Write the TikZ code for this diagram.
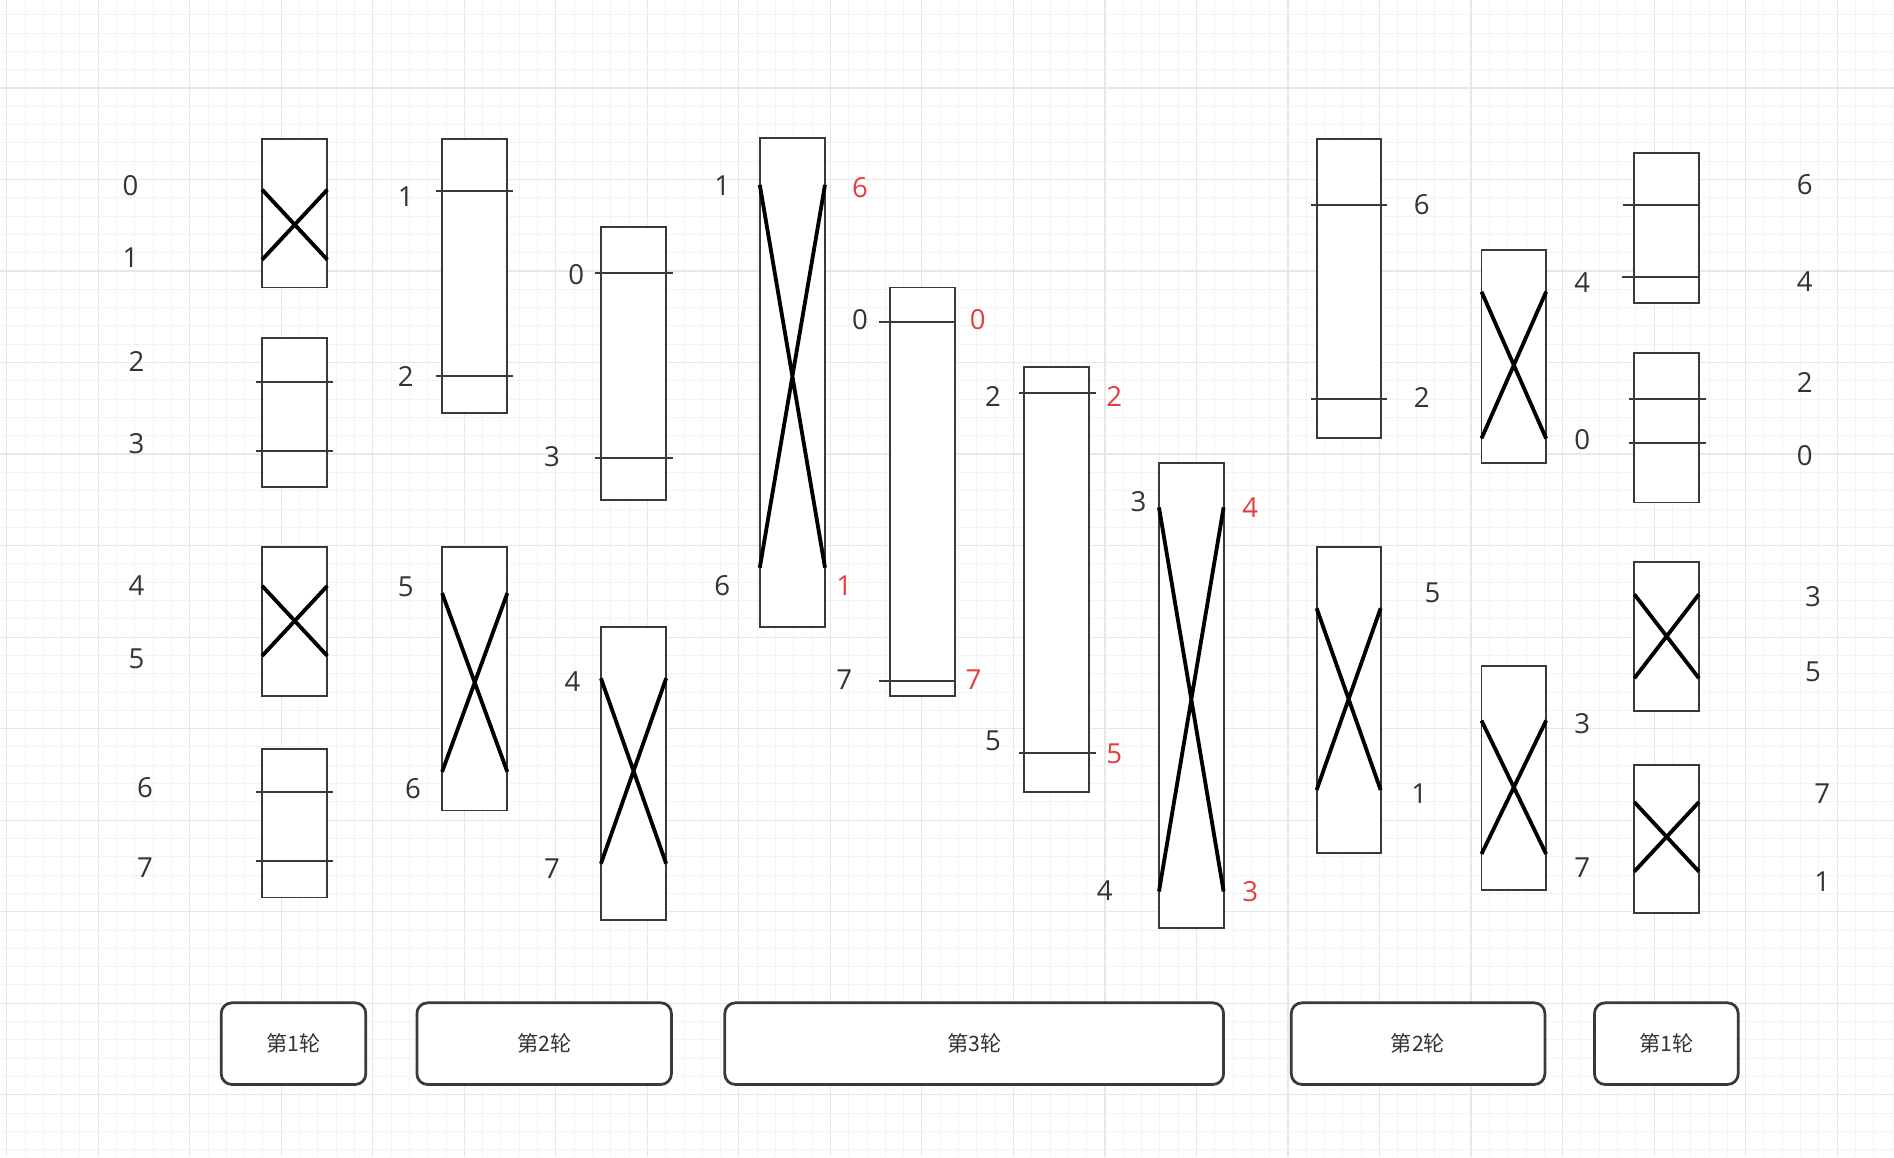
\documentclass[tikz,border=0pt]{standalone}
\usepackage{fontspec}
\setmainfont{Noto Sans CJK SC}
\newfontfamily\digitfont{Open Sans}
\usetikzlibrary{positioning}
\definecolor{gridminor}{HTML}{F3F3F3}
\definecolor{gridmajor}{HTML}{E7E7E7}
\definecolor{boxgray}{HTML}{343A40}
\definecolor{numgray}{HTML}{333333}
\definecolor{numred}{HTML}{E53E3E}

\begin{document}
\begin{tikzpicture}[x=0.02cm,y=-0.02cm,
    blk/.style={draw=boxgray,line width=0.9pt,fill=white},
    swapline/.style={black,line width=1.8pt},
    bar/.style={boxgray,line width=0.9pt},
    num/.style={text=numgray,inner sep=0pt,font=\digitfont\fontsize{13}{15}\selectfont},
    numr/.style={num,text=numred},
    btn/.style={draw=boxgray,line width=1.3pt,rounded corners=5pt,fill=white,
      inner sep=0pt,minimum height=1.352cm,text=numgray,font=\fontsize{10}{12}\selectfont}]
  \useasboundingbox (0,0) rectangle (1568,958);
  % background grid
  \fill[white] (0,0) rectangle (1568,958);
  \begin{scope}
    \clip (0,0) rectangle (1568,958);
    \foreach \i in {-1,...,103}
      \draw[gridminor,line width=0.4pt] ({5.5+15.154*\i},0) -- ++(0,958);
    \foreach \j in {-5,...,58}
      \draw[gridminor,line width=0.4pt] (0,{72.8+15.154*\j}) -- ++(1568,0);
    \foreach \i in {0,...,20}
      \draw[gridmajor,line width=0.55pt] ({5.5+75.77*\i},0) -- ++(0,958);
    \foreach \j in {-1,...,11}
      \draw[gridmajor,line width=0.55pt] (0,{72.8+75.77*\j}) -- ++(1568,0);
  \end{scope}

  % round 1 (left)
  \draw[blk] (217,115) rectangle (271,238);
  \draw[swapline] (217,157) -- (271,215) (217,215) -- (271,157);
  \draw[blk] (217,280) rectangle (271,403);
  \draw[bar] (212,316) -- (276,316) (212,373) -- (276,373);
  \draw[blk] (217,453) rectangle (271,576);
  \draw[swapline] (217,485) -- (271,543) (217,543) -- (271,485);
  \draw[blk] (217,620) rectangle (271,743);
  \draw[bar] (212,656) -- (276,656) (212,713) -- (276,713);
  \node[num] (a0) at (108,154) {0};
  \node[num] (a1) at (108,213) {1};
  \node[num] (a2) at (113,299) {2};
  \node[num] (a3) at (113,367) {3};
  \node[num] (a4) at (113,485) {4};
  \node[num] (a5) at (113,545) {5};
  \node[num] (a6) at (120,652) {6};
  \node[num] (a7) at (120,718) {7};

  % round 2 (left)
  \draw[blk] (366,115) rectangle (420,342);
  \draw[bar] (361,158) -- (425,158) (361,311) -- (425,311);
  \draw[blk] (366,453) rectangle (420,671);
  \draw[swapline] (366,491) -- (420,639) (366,639) -- (420,491);
  \draw[blk] (497.5,188) rectangle (551.5,414);
  \draw[bar] (492.5,226) -- (557,226) (492.5,379.5) -- (557,379.5);
  \draw[blk] (497.5,519) rectangle (551.5,762);
  \draw[swapline] (497.5,561.5) -- (551.5,715) (497.5,715) -- (551.5,561.5);
  \node[num] (b1) at (336,163) {1};
  \node[num] (b2) at (336,312) {2};
  \node[num] (b5) at (336,486) {5};
  \node[num] (b6) at (342,653) {6};
  \node[num] (b0) at (477,227) {0};
  \node[num] (b3) at (457,378) {3};
  \node[num] (b4) at (474,564) {4};
  \node[num] (b7) at (457,719) {7};

  % round 3
  \draw[blk] (629,114.5) rectangle (683,519);
  \draw[swapline] (629,153) -- (683,470) (629,470) -- (683,153);
  \draw[blk] (737,238) rectangle (790.5,576);
  \draw[bar] (727.5,266.5) -- (790.5,266.5) (727.5,564) -- (790.5,564);
  \draw[blk] (848,303.5) rectangle (901.5,656);
  \draw[bar] (843.5,325) -- (907.5,325) (843.5,623) -- (907.5,623);
  \draw[blk] (959.5,383) rectangle (1013,768);
  \draw[swapline] (959.5,420) -- (1013,738) (959.5,738) -- (1013,420);
  \node[num] (c1) at (598,154) {1};
  \node[num] (c6) at (598,485) {6};
  \node[numr] (c6r) at (712,155) {6};
  \node[numr] (c1r) at (699,485) {1};
  \node[num] (c0) at (712,265) {0};
  \node[num] (c7) at (699,563) {7};
  \node[numr] (c0r) at (809.5,265) {0};
  \node[numr] (c7r) at (806,563) {7};
  \node[num] (c2) at (822,328) {2};
  \node[num] (c5) at (822,613) {5};
  \node[numr] (c2r) at (922.5,328) {2};
  \node[numr] (c5r) at (922.5,624) {5};
  \node[num] (c3) at (942.5,415) {3};
  \node[num] (c4) at (914.5,737) {4};
  \node[numr] (c4r) at (1035,420) {4};
  \node[numr] (c3r) at (1035,738) {3};

  % round 2 (right)
  \draw[blk] (1090,115) rectangle (1143,362.5);
  \draw[bar] (1085.5,170) -- (1148.5,170) (1085.5,330) -- (1148.5,330);
  \draw[blk] (1090,452.5) rectangle (1143,706);
  \draw[swapline] (1090,503.5) -- (1143,654) (1090,654) -- (1143,503.5);
  \draw[blk] (1226.5,207) rectangle (1280,383.5);
  \draw[swapline] (1226.5,241.5) -- (1280,363) (1226.5,363) -- (1280,241.5);
  \draw[blk] (1226.5,551) rectangle (1280,737);
  \draw[swapline] (1226.5,596.5) -- (1280,707) (1226.5,707) -- (1280,596.5);
  \node[num] (d6) at (1177,169) {6};
  \node[num] (d2) at (1177,329) {2};
  \node[num] (d5) at (1186,491) {5};
  \node[num] (d1) at (1175,657) {1};
  \node[num] (d4) at (1310,234) {4};
  \node[num] (d0) at (1310,364) {0};
  \node[num] (d3) at (1310,599) {3};
  \node[num] (d7) at (1310,718) {7};

  % round 1 (right)
  \draw[blk] (1353,127) rectangle (1406.5,250.5);
  \draw[bar] (1343.5,170) -- (1406.5,170) (1343,229) -- (1406.5,229);
  \draw[blk] (1353,292.5) rectangle (1406.5,416);
  \draw[bar] (1348.5,330) -- (1412,330) (1348.5,367) -- (1412,367);
  \draw[blk] (1353,465) rectangle (1406.5,588.5);
  \draw[swapline] (1353,492) -- (1406.5,561.5) (1353,561.5) -- (1406.5,492);
  \draw[blk] (1353,633.5) rectangle (1406.5,755.5);
  \draw[swapline] (1353,664) -- (1406.5,721.5) (1353,721.5) -- (1406.5,664);
  \node[num] (e6) at (1494,153) {6};
  \node[num] (e4) at (1494,233) {4};
  \node[num] (e2) at (1494,317) {2};
  \node[num] (e0) at (1494,377) {0};
  \node[num] (e3) at (1501,494) {3};
  \node[num] (e5) at (1501,556) {5};
  \node[num] (e7) at (1508.5,657) {7};
  \node[num] (e1) at (1508.5,730) {1};

  % round buttons
  \node[btn,minimum width=2.394cm] (r1a) at (243,864) {第1轮};
  \node[btn,minimum width=4.214cm] (r2a) at (450.5,864) {第2轮};
  \node[btn,minimum width=8.26cm] (r3) at (806.5,864) {第3轮};
  \node[btn,minimum width=4.2cm] (r2b) at (1174,864) {第2轮};
  \node[btn,minimum width=2.38cm] (r1b) at (1379.5,864) {第1轮};
\end{tikzpicture}
\end{document}
